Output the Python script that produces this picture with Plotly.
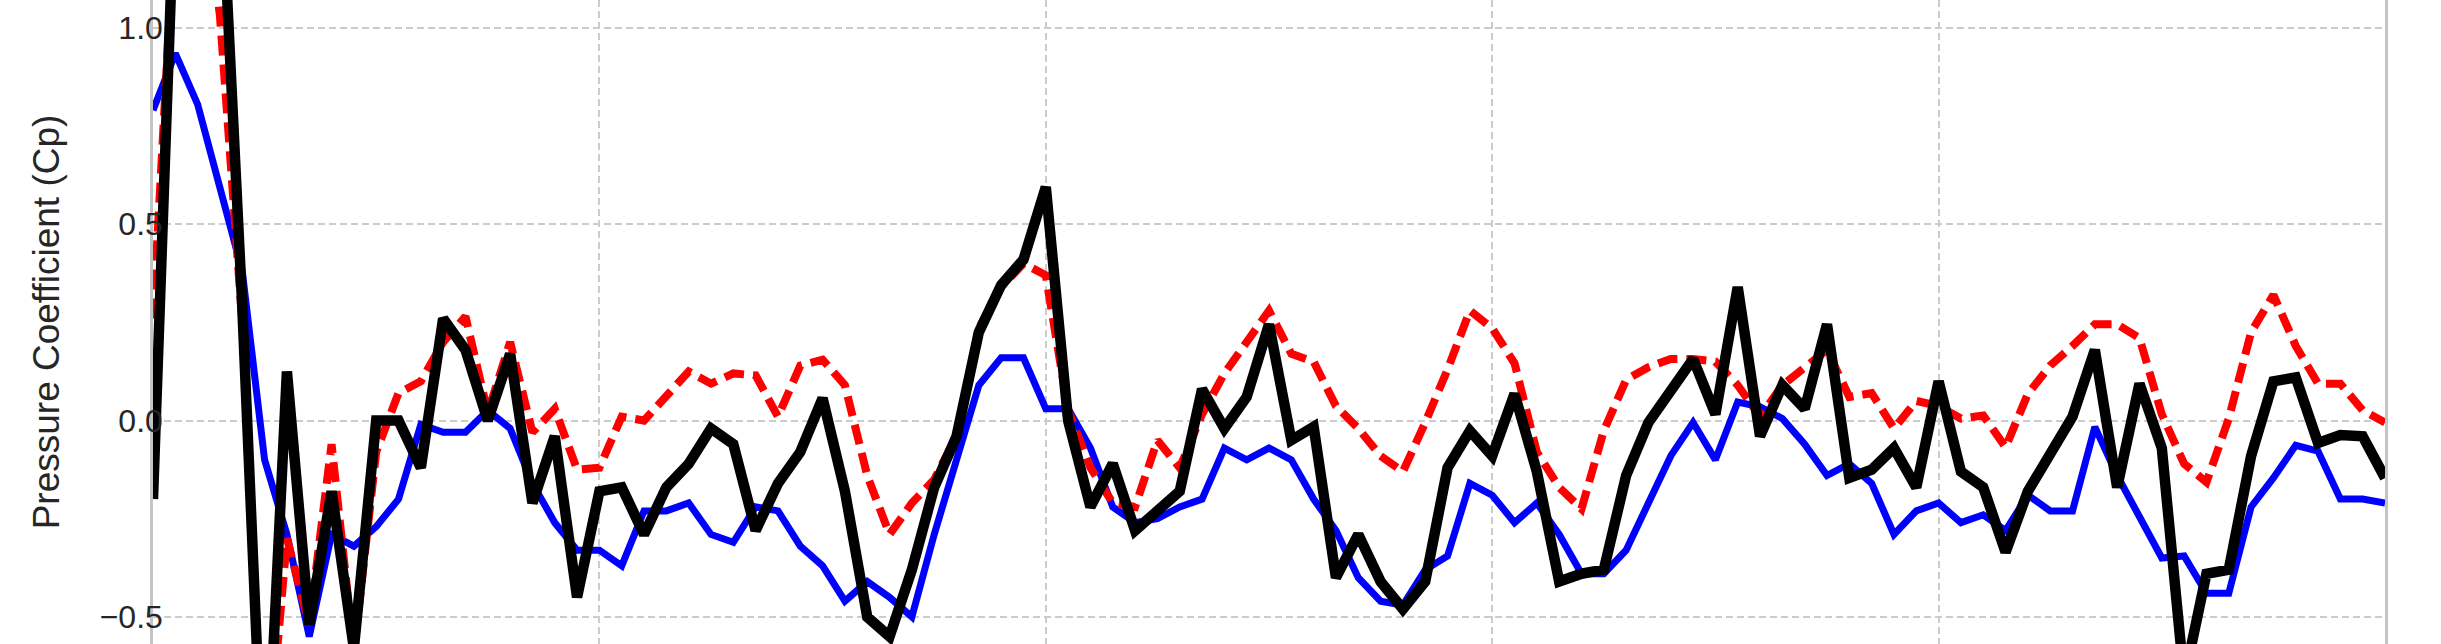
import plotly.graph_objects as go

# Station index along the surface (101 stations)
station = list(range(0, 101))

cp_blue = [0.79, 0.935, 0.805, 0.60, 0.38, -0.10, -0.29, -0.55, -0.29, -0.32,
           -0.27, -0.20, -0.01, -0.03, -0.03, 0.026, -0.02, -0.16, -0.26, -0.33,
           -0.33, -0.37, -0.23, -0.23, -0.21, -0.29, -0.31, -0.22, -0.23, -0.32,
           -0.37, -0.46, -0.41, -0.45, -0.50, -0.29, -0.10, 0.09, 0.16, 0.16,
           0.03, 0.03, -0.07, -0.22, -0.26, -0.25, -0.22, -0.20, -0.07, -0.10,
           -0.07, -0.10, -0.20, -0.28, -0.40, -0.46, -0.47, -0.38, -0.345, -0.16,
           -0.19, -0.26, -0.21, -0.29, -0.39, -0.39, -0.33, -0.21, -0.09, -0.005,
           -0.10, 0.047, 0.035, 0.005, -0.06, -0.14, -0.11, -0.16, -0.29, -0.23,
           -0.21, -0.26, -0.24, -0.28, -0.19, -0.23, -0.23, -0.016, -0.14, -0.245,
           -0.35, -0.345, -0.44, -0.44, -0.22, -0.146, -0.063, -0.078, -0.20, -0.20,
           -0.21]

cp_red = [0.26, 1.30, 1.50, 1.03, 0.25, -0.95, -0.30, -0.52, -0.06, -0.59,
          -0.08, 0.07, 0.10, 0.20, 0.265, 0.02, 0.20, -0.03, 0.03, -0.125,
          -0.12, 0.01, 0.0, 0.06, 0.125, 0.094, 0.12, 0.115, 0.01, 0.14,
          0.155, 0.09, -0.14, -0.29, -0.21, -0.15, -0.04, 0.235, 0.34, 0.40,
          0.37, 0.026, -0.12, -0.21, -0.22, -0.05, -0.12, 0.016, 0.12, 0.20,
          0.28, 0.17, 0.15, 0.037, -0.02, -0.09, -0.13, -0.005, 0.13, 0.28,
          0.235, 0.146, -0.08, -0.17, -0.225, -0.026, 0.104, 0.136, 0.157, 0.157,
          0.15, 0.09, 0.01, 0.09, 0.136, 0.18, 0.06, 0.07, -0.02, 0.05,
          0.037, 0.005, 0.013, -0.068, 0.068, 0.14, 0.19, 0.245, 0.245, 0.21,
          0.016, -0.11, -0.157, 0.005, 0.225, 0.32, 0.19, 0.094, 0.094, 0.026,
          -0.005]

cp_black = [-0.20, 1.41, 1.60, 1.45, 0.29, -1.04, 0.125, -0.52, -0.18, -0.58,
            0.0, 0.0, -0.12, 0.26, 0.18, 0.0, 0.17, -0.21, -0.04, -0.45,
            -0.18, -0.17, -0.29, -0.17, -0.11, -0.02, -0.06, -0.28, -0.16, -0.08,
            0.057, -0.18, -0.50, -0.55, -0.38, -0.17, -0.04, 0.225, 0.345, 0.41,
            0.595, 0.0, -0.22, -0.11, -0.28, -0.23, -0.18, 0.08, -0.02, 0.06,
            0.245, -0.05, -0.016, -0.40, -0.29, -0.41, -0.48, -0.41, -0.12, -0.026,
            -0.09, 0.068, -0.13, -0.41, -0.39, -0.38, -0.14, -0.005, 0.078, 0.157,
            0.016, 0.34, -0.04, 0.09, 0.03, 0.245, -0.146, -0.125, -0.07, -0.17,
            0.10, -0.13, -0.17, -0.335, -0.18, -0.08, 0.01, 0.18, -0.17, 0.094,
            -0.07, -0.66, -0.39, -0.38, -0.09, 0.10, 0.11, -0.057, -0.037, -0.04,
            -0.146]

y_ticks = [-0.5, 0.0, 0.5, 1.0]
y_tick_text = ["\u22120.5", "0.0", "0.5", "1.0"]
x_ticks = [0, 20, 40, 60, 80, 100]

font_family = "Liberation Sans, Arial, Helvetica, sans-serif"

fig = go.Figure()
fig.add_trace(go.Scatter(x=station, y=cp_blue, mode="lines", name="Cp (blue)",
                         line=dict(color="#0000ff", width=7)))
fig.add_trace(go.Scatter(x=station, y=cp_red, mode="lines", name="Cp (red, dashed)",
                         line=dict(color="#ff0000", width=8, dash="20px,9px")))
fig.add_trace(go.Scatter(x=station, y=cp_black, mode="lines", name="Cp (black)",
                         line=dict(color="#000000", width=10.5)))

fig.update_layout(
    width=2441, height=644,
    margin=dict(l=153, r=56, t=0, b=0, autoexpand=False),
    paper_bgcolor="white", plot_bgcolor="white",
    showlegend=False,
    font=dict(family=font_family, color="#262626"),
    xaxis=dict(range=[0, 100], tickvals=x_ticks, showticklabels=False,
               showgrid=True, gridcolor="#cccccc", gridwidth=1.5, griddash="7px,4px",
               zeroline=False, showline=False, ticks=""),
    yaxis=dict(range=[-0.569, 1.071], tickvals=y_ticks, ticktext=y_tick_text,
               showgrid=True, gridcolor="#cccccc", gridwidth=1.5, griddash="7px,4px",
               zeroline=False, showline=True, mirror=True, linecolor="#c4c4c4", linewidth=2.5,
               ticks="outside", ticklen=9, tickcolor="rgba(0,0,0,0)", ticklabelstandoff=-28,
               tickfont=dict(size=32, family=font_family, color="#262626"),
               title=dict(text="Pressure Coefficient (Cp)", standoff=29,
                          font=dict(size=37, family=font_family, color="#262626"))),
)

# remove the browser's default 8px body margin so the figure sits at the page origin
fig.write_html("out.html", config={"displayModeBar": False},
               post_script="document.body.style.margin='0';")
